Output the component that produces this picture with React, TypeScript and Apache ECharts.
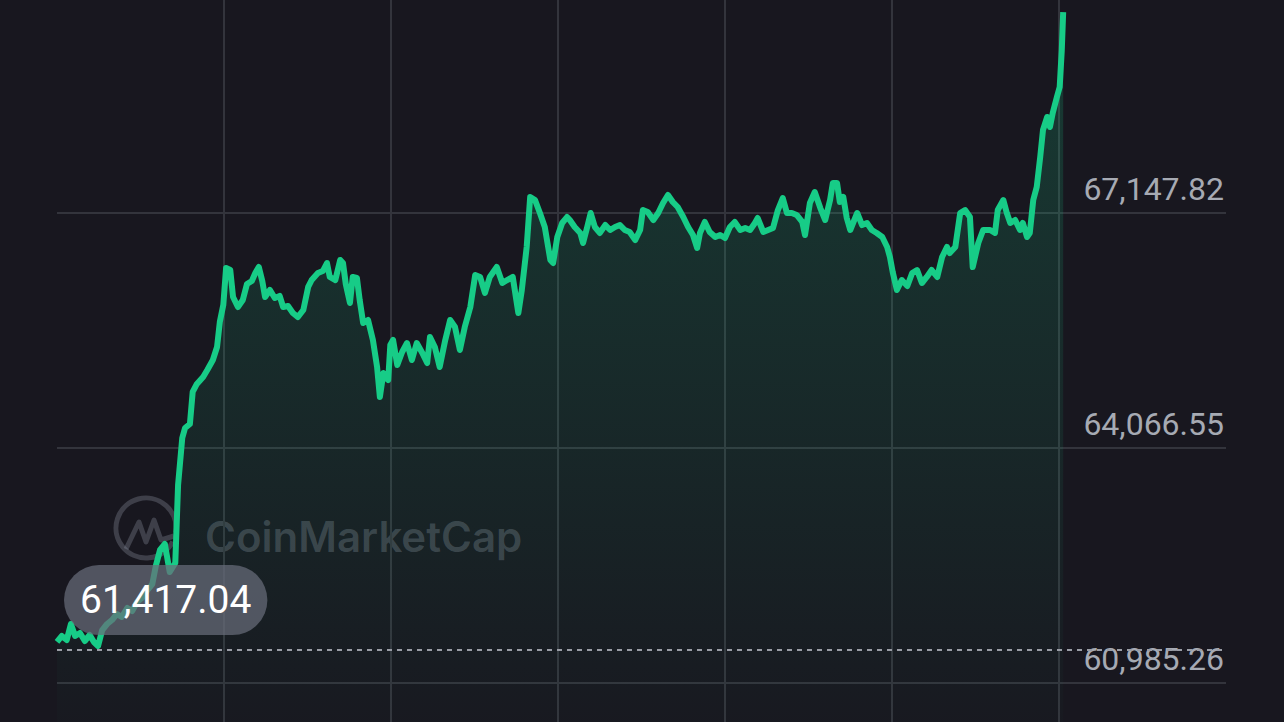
import React, { useEffect, useRef } from "react";
import * as echarts from "echarts";

// Minutes since the start of the 24h window
const minutes = [
  0, 7, 14, 20, 26, 33, 40, 47, 53, 59, 65, 72, 79, 86, 93, 101, 108, 115, 122, 129,
  137, 142, 148, 155, 162, 170, 174, 180, 184, 191, 195, 201, 210, 216, 224, 230, 234, 239, 243, 249,
  253, 260, 267, 273, 280, 285, 290, 295, 299, 306, 313, 320, 325, 332, 339, 346, 354, 361, 366, 375,
  382, 388, 392, 400, 407, 411, 415, 421, 425, 431, 435, 440, 447, 454, 460, 464, 469, 476, 479, 483,
  489, 496, 503, 510, 517, 525, 532, 536, 543, 550, 558, 565, 572, 579, 586, 594, 601, 608, 615, 622,
  632, 640, 647, 655, 663, 668, 675, 680, 687, 694, 701, 709, 713, 719, 726, 733, 737, 744, 752, 756,
  762, 767, 773, 780, 788, 795, 802, 809, 816, 823, 831, 838, 842, 849, 857, 864, 871, 878, 885, 892,
  900, 907, 914, 920, 924, 931, 938, 946, 953, 960, 967, 974, 982, 989, 996, 1003, 1007, 1015, 1022, 1029,
  1036, 1043, 1049, 1056, 1063, 1071, 1075, 1082, 1089, 1097, 1104, 1111, 1115, 1121, 1125, 1130, 1135, 1140, 1150, 1157,
  1164, 1171, 1178, 1186, 1193, 1197, 1201, 1207, 1214, 1222, 1229, 1236, 1243, 1250, 1257, 1265, 1272, 1279, 1283, 1291,
  1298, 1305, 1312, 1316, 1324, 1331, 1341, 1348, 1352, 1360, 1365, 1370, 1377, 1384, 1388, 1394, 1398, 1403, 1408, 1413,
  1417, 1423, 1427, 1431, 1437, 1441, 1444, 1446,
];

// Price (USD)
const prices = [
  61523, 61602, 61549, 61759, 61602, 61641, 61536, 61615, 61523, 61470, 61680, 61759, 61811, 61890, 61851, 61969, 61929, 62047, 62100, 62192,
  62283, 62519, 62729, 62808, 62441, 62559, 63581, 64198, 64329, 64381, 64801, 64906, 64997, 65089, 65220, 65391, 65719, 65942, 66427, 66400,
  66046, 65915, 66007, 66217, 66256, 66361, 66440, 66256, 66046, 66138, 66033, 66060, 65915, 65928, 65837, 65784, 65876, 66178, 66269, 66361,
  66387, 66492, 66309, 66269, 66532, 66492, 66217, 65968, 66309, 66296, 66007, 65706, 65745, 65483, 65128, 64735, 65050, 64958, 65417, 65483,
  65155, 65325, 65443, 65220, 65443, 65312, 65181, 65522, 65391, 65129, 65483, 65745, 65653, 65352, 65653, 65915, 66335, 66309, 66099, 66309,
  66440, 66230, 66269, 66309, 65837, 66138, 66702, 67358, 67318, 67148, 66964, 66532, 66492, 66833, 67017, 67095, 67056, 66964, 66886, 66754,
  66964, 67148, 66964, 66886, 66990, 66925, 66964, 66990, 66925, 66899, 66794, 66925, 67187, 67161, 67056, 67148, 67279, 67384, 67292, 67226,
  67095, 66964, 66859, 66689, 66886, 67030, 66899, 66833, 66859, 66820, 66964, 67030, 66925, 66951, 66925, 67017, 67082, 66899, 66925, 66951,
  67187, 67344, 67148, 67148, 67122, 67030, 66859, 67279, 67423, 67213, 67056, 67318, 67541, 67541, 67292, 67358, 67082, 66925, 67148, 66990,
  67017, 66925, 66886, 66833, 66702, 66571, 66374, 66138, 66269, 66191, 66361, 66400, 66230, 66309, 66400, 66309, 66571, 66702, 66623, 66702,
  67148, 67187, 67095, 66440, 66754, 66925, 66925, 66886, 67187, 67318, 67148, 67017, 67056, 66925, 67017, 66833, 66886, 67318, 67489, 67882,
  68236, 68407, 68275, 68459, 68669, 68800, 69285, 69783,
];

const startPrice = 61417.04;
const startPriceLabel = "61,417.04";

const yTickValues = [60985.26, 64066.55, 67147.82];
const yTickLabels = ["60,985.26", "64,066.55", "67,147.82"];

const watermarkText = "CoinMarketCap";

const BG = "#18171f";
const GREEN = "#17cc87";
const WM = "rgba(140,145,160,0.33)";

export default function App() {
  const ref = useRef<HTMLDivElement>(null);

  useEffect(() => {
    document.body.style.margin = "0";
    document.body.style.background = BG;
    if (!ref.current) return;
    const chart = echarts.init(ref.current, undefined, { renderer: "svg" });
    const yStep = 3081.27;
    const yMin = 60985.26 - yStep;
    const yMax = 60985.26 + 3 * yStep;

    chart.setOption({
      animation: false,
      backgroundColor: BG,
      grid: {
        left: 57,
        top: -22,
        width: 1169,
        height: 940,
        containLabel: false,
        outerBoundsMode: "none",
      },
      xAxis: {
        type: "value",
        min: 0,
        max: 1680,
        interval: 240,
        axisLine: { show: false },
        axisTick: { show: false },
        axisLabel: { show: false },
        splitLine: {
          show: true,
          showMinLine: false,
          showMaxLine: false,
          lineStyle: { color: "#33343c", width: 2 },
        },
      },
      yAxis: {
        type: "value",
        position: "right",
        min: yMin,
        max: yMax,
        interval: yStep,
        axisLine: { show: false },
        axisTick: { show: false },
        splitLine: { show: true, lineStyle: { color: "#33343c", width: 2 } },
        axisLabel: {
          show: true,
          inside: true,
          margin: 2,
          fontSize: 32,
          lineHeight: 32,
          fontFamily: "Roboto",
          color: "#a6aab3",
          verticalAlign: "bottom",
          padding: [0, 0, 8, 0],
          formatter: (v: number) => {
            for (let i = 0; i < yTickValues.length; i++) {
              if (Math.abs(v - yTickValues[i]) < 10) return yTickLabels[i];
            }
            return "";
          },
        },
      },
      graphic: [
        {
          type: "group",
          z: 0,
          silent: true,
          children: [
            {
              type: "arc",
              shape: { cx: 146, cy: 528, r: 30, startAngle: 0.15 * Math.PI, endAngle: 2.05 * Math.PI },
              style: { stroke: WM, lineWidth: 5, fill: "none" },
            },
            {
              type: "polyline",
              shape: {
                points: [
                  [126, 549],
                  [139, 522],
                  [146, 542],
                  [154, 520],
                  [161, 540],
                  [174, 536],
                ],
              },
              style: { stroke: WM, lineWidth: 5, fill: "none", lineJoin: "round" },
            },
            {
              type: "text",
              x: 205,
              y: 536,
              style: {
                text: watermarkText,
                fill: WM,
                font: "600 42px Inter",
                verticalAlign: "middle",
              },
            },
          ],
        },
      ],
      series: [
        {
          type: "line",
          data: minutes.map((m, i) => [m, prices[i]]),
          showSymbol: false,
          symbol: "none",
          lineStyle: { color: GREEN, width: 6, join: "round" },
          areaStyle: {
            color: new echarts.graphic.LinearGradient(
              0,
              10,
              0,
              720,
              [
                { offset: 0, color: "rgba(22,199,132,0.30)" },
                { offset: 1, color: "rgba(22,199,132,0.02)" },
              ],
              true
            ),
          },
          markLine: {
            silent: true,
            symbol: "none",
            lineStyle: { type: [5, 5], color: "#9a9da6", width: 2 },
            emphasis: { disabled: true },
            label: {
              show: true,
              position: "insideStartTop",
              formatter: startPriceLabel,
              color: "#ffffff",
              fontSize: 39,
              lineHeight: 46,
              fontFamily: "Roboto",
              backgroundColor: "rgba(104,108,122,0.72)",
              borderRadius: 36,
              padding: [12, 16, 12, 16],
              distance: [7, 15],
            },
            data: [{ yAxis: startPrice }],
          },
        },
      ],
    });

    return () => chart.dispose();
  }, []);

  return <div ref={ref} style={{ width: 1284, height: 722 }} />;
}
